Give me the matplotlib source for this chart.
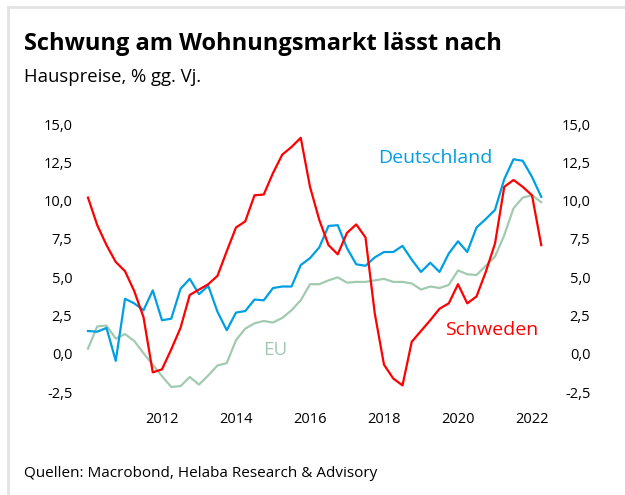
import numpy as np
import matplotlib
matplotlib.use('Agg')
import matplotlib.pyplot as plt
from matplotlib.lines import Line2D
from matplotlib.ticker import FuncFormatter

# quarterly house price growth, % y/y, 2010 Q1 .. 2022 Q2
quarters = np.arange(2010, 2022.26, 0.25)

schweden = [10.2, 8.4, 7.1, 6.0, 5.4, 4.1, 2.4, -1.2, -1.0, 0.3,
            1.7, 3.85, 4.2, 4.55, 5.1, 6.7, 8.25, 8.65, 10.35, 10.4,
            11.8, 13.0, 13.5, 14.1, 10.9, 8.75, 7.1, 6.5, 7.9, 8.45,
            7.6, 2.65, -0.7, -1.6, -2.05, 0.8, 1.5, 2.2, 2.95, 3.3,
            4.55, 3.3, 3.75, 5.35, 7.2, 10.9, 11.35, 10.9, 10.35, 7.1]

deutschland = [1.5, 1.45, 1.7, -0.45, 3.6, 3.3, 2.85, 4.15, 2.2, 2.3,
               4.25, 4.9, 3.9, 4.45, 2.75, 1.55, 2.7, 2.8, 3.55, 3.5,
               4.3, 4.4, 4.4, 5.8, 6.25, 6.95, 8.35, 8.4, 6.9, 5.85,
               5.75, 6.3, 6.65, 6.65, 7.05, 6.15, 5.35, 5.95, 5.35, 6.55,
               7.35, 6.65, 8.25, 8.8, 9.4, 11.4, 12.7, 12.6, 11.55, 10.25]

eu = [0.35, 1.8, 1.85, 1.0, 1.3, 0.85, 0.05, -0.7, -1.45, -2.15,
      -2.1, -1.5, -2.0, -1.4, -0.75, -0.6, 0.9, 1.65, 2.0, 2.15,
      2.05, 2.35, 2.85, 3.5, 4.55, 4.55, 4.8, 5.0, 4.65, 4.7,
      4.7, 4.8, 4.9, 4.7, 4.7, 4.6, 4.2, 4.4, 4.3, 4.5,
      5.45, 5.2, 5.15, 5.75, 6.35, 7.75, 9.5, 10.2, 10.35, 9.9]

year_ticks = [2012, 2014, 2016, 2018, 2020, 2022]
y_ticks = [-2.5, 0.0, 2.5, 5.0, 7.5, 10.0, 12.5, 15.0]

RED = '#FF0000'
BLUE = '#009FE3'
GREEN = '#A2CAB1'
FONT = 'Open Sans'

plt.rcParams['font.family'] = [FONT, 'DejaVu Sans']

W, H = 625, 495
fig = plt.figure(figsize=(W / 100, H / 100), dpi=100)

def fx(px):
    return px / W

def fy(py):
    return 1 - py / H

# axes box in pixels: x 80..550, y 124..392.3
ax = fig.add_axes([fx(80), fy(392.3), fx(550 - 80), (392.3 - 124) / H])
ax.plot(quarters, eu, color=GREEN, lw=1.6)
ax.plot(quarters, deutschland, color=BLUE, lw=1.6)
ax.plot(quarters, schweden, color=RED, lw=1.6)

ax.set_xlim(2010 - 8 / 37, 2022.25 + 8.75 / 37)
ax.set_ylim(-2.5, 15)
ax.set_xticks(year_ticks)
ax.set_yticks(y_ticks)
fmt = FuncFormatter(lambda v, p: f"{v:.1f}".replace('.', ','))
ax.yaxis.set_major_formatter(fmt)
for s in ax.spines.values():
    s.set_visible(False)
ax.tick_params(axis='both', length=0, labelsize=10.5)
ax.tick_params(axis='y', pad=5.5)
ax.tick_params(axis='x', pad=14)

ax2 = ax.twinx()
ax2.set_ylim(ax.get_ylim())
ax2.set_yticks(y_ticks)
ax2.yaxis.set_major_formatter(fmt)
for s in ax2.spines.values():
    s.set_visible(False)
ax2.tick_params(axis='y', length=0, labelsize=10.5, pad=29)
for lab in ax2.get_yticklabels():
    lab.set_horizontalalignment('right')

# series labels
ax.text(2017.84, 12.8, 'Deutschland', color=BLUE, fontsize=14, va='center')
ax.text(2019.65, 1.55, 'Schweden', color=RED, fontsize=14, va='center')
ax.text(2014.72, 0.25, 'EU', color=GREEN, fontsize=13.5, va='center')

fig.text(fx(24), fy(50), 'Schwung am Wohnungsmarkt lässt nach',
         fontsize=17, fontweight='bold', va='baseline')
fig.text(fx(24), fy(82), 'Hauspreise, % gg. Vj.', fontsize=13.3, va='baseline')
fig.text(fx(24), fy(477), 'Quellen: Macrobond, Helaba Research & Advisory',
         fontsize=11, va='baseline')

# light frame on top and left edge
fig.add_artist(Line2D([fx(7.5), 1], [fy(7), fy(7)], color='#E3E3E3', lw=2))
fig.add_artist(Line2D([fx(7.5), fx(7.5)], [0, fy(7)], color='#E3E3E3', lw=2))

fig.savefig('out.png', dpi=100)
